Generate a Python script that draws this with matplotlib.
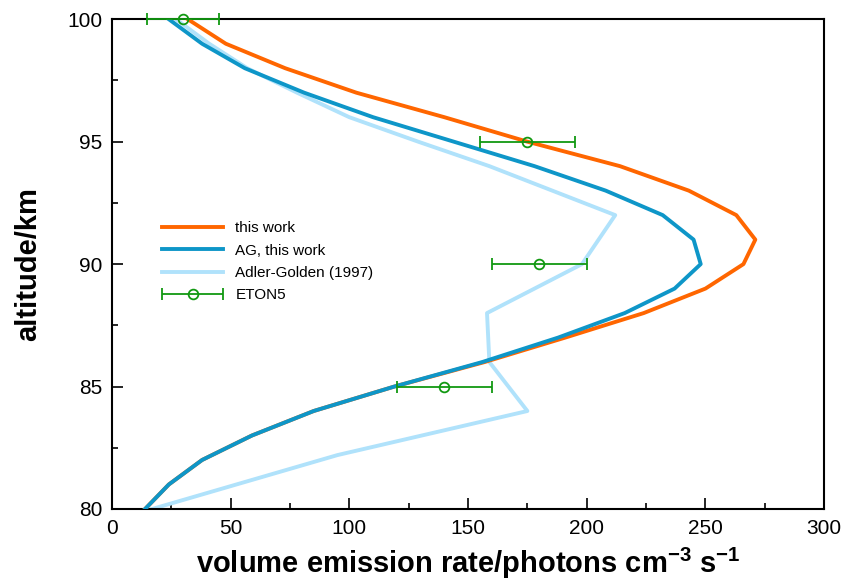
import matplotlib
matplotlib.use("Agg")
import matplotlib.pyplot as plt
from matplotlib.ticker import MultipleLocator
from matplotlib.legend_handler import HandlerErrorbar

# this work
alt_tw = [100, 99, 98, 97, 96, 95, 94, 93, 92, 91, 90, 89, 88, 87, 86, 85, 84, 83, 82, 81, 80]
ver_tw = [32, 48, 73, 103, 140, 175, 214, 243, 263, 271, 266, 250, 224, 191, 157, 119, 85, 59, 38, 24, 14]

# AG, this work
alt_ag = [100, 99, 98, 97, 96, 95, 94, 93, 92, 91, 90, 89, 88, 87, 86, 85, 84, 83, 82, 81, 80]
ver_ag = [24, 38, 56, 81, 110, 144, 178, 208, 232, 245, 248, 237, 216, 188, 156, 119, 85, 59, 38, 24, 14]

# Adler-Golden (1997)
alt_adg = [100, 99, 98, 97, 96, 95, 94, 92, 90, 88, 86, 84, 82.2, 80]
ver_adg = [27, 41, 57, 78, 100, 129, 159, 212, 198, 158, 159, 175, 95, 17]

# ETON5
alt_eton = [100, 95, 90, 85]
ver_eton = [30, 175, 180, 140]
err_eton = [15, 20, 20, 20]

fonts = ["Liberation Sans Narrow", "Liberation Sans", "DejaVu Sans"]
plt.rcParams["font.family"] = fonts
plt.rcParams["mathtext.fontset"] = "custom"
plt.rcParams["mathtext.rm"] = "Liberation Sans"
plt.rcParams["mathtext.bf"] = "Liberation Sans:bold"

fig = plt.figure(figsize=(8.41, 5.83), dpi=100)
ax = fig.add_axes([0.133, 0.127, 0.847, 0.840])

ax.plot(ver_tw, alt_tw, color="#ff6600", lw=2.8, label="this work", zorder=3)
ax.plot(ver_ag, alt_ag, color="#0e96c8", lw=2.8, label="AG, this work", zorder=4)
ax.plot(ver_adg, alt_adg, color="#b0e2fb", lw=2.8, label="Adler-Golden (1997)", zorder=2)
eb = ax.errorbar(ver_eton, alt_eton, xerr=err_eton, fmt="-o", ls="none", color="#119911",
                 mfc="none", ms=7, mew=1.3, elinewidth=1.3, capsize=4, capthick=1.3,
                 label="ETON5", zorder=5, clip_on=False)

ax.set_xlim(0, 300)
ax.set_ylim(80, 100)
ax.xaxis.set_major_locator(MultipleLocator(50))
ax.xaxis.set_minor_locator(MultipleLocator(25))
ax.yaxis.set_major_locator(MultipleLocator(5))
ax.yaxis.set_minor_locator(MultipleLocator(2.5))
ax.tick_params(which="both", direction="in", top=False, right=False, width=1.2)
ax.tick_params(which="major", length=8, labelsize=15, pad=7)
ax.tick_params(which="minor", length=4)
for sp in ax.spines.values():
    sp.set_linewidth(1.5)

ax.set_xlabel("volume emission rate/photons cm$^{\\mathbf{-3}}$ s$^{\\mathbf{-1}}$",
              fontsize=21, fontweight="bold", labelpad=6)
ax.set_ylabel("altitude/km", fontsize=21, fontweight="bold", labelpad=18)

leg = ax.legend(loc="upper left", bbox_to_anchor=(0.062, 0.60), frameon=False,
                fontsize=11, handlelength=4.0, labelspacing=0.55, handletextpad=0.8,
                borderaxespad=0,
                handler_map={type(eb): HandlerErrorbar(xerr_size=2.0)})

fig.savefig("out.png", dpi=100)
plt.close(fig)
